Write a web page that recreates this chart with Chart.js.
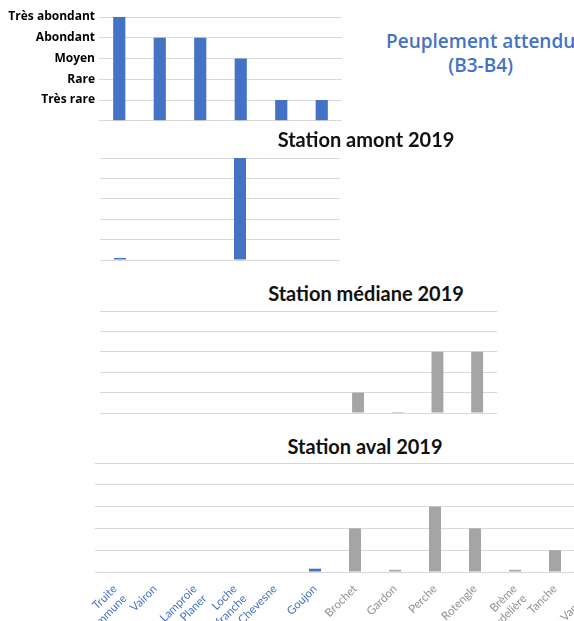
<!DOCTYPE html>
<html>
<head>
<meta charset="utf-8">
<script src="https://cdn.jsdelivr.net/npm/chart.js@4"></script>
<style>
  body { margin: 0; background: #fff; width: 574px; height: 621px; overflow: hidden; position: relative; }
  canvas { position: absolute; }
  .titre { position: absolute; font-family: Lato, sans-serif; font-weight: bold; font-size: 20px; color: #111; transform: translateX(-50%); white-space: nowrap; }
  .attendu { position: absolute; font-family: "Open Sans", sans-serif; font-weight: 600; font-size: 19px; color: #4472C4; text-align: center; white-space: nowrap; line-height: 24px; }
</style>
</head>
<body>
<canvas id="cAttendu" width="345" height="132" style="left:0;top:0"></canvas>
<div class="attendu" style="left:386px;top:29px">Peuplement attendu<br>(B3-B4)</div>

<div class="titre" style="left:366px;top:127px">Station amont 2019</div>
<canvas id="cAmont" width="242" height="114" style="left:100px;top:150px"></canvas>

<div class="titre" style="left:366px;top:281px">Station médiane 2019</div>
<canvas id="cMediane" width="399" height="114" style="left:100px;top:303px"></canvas>

<div class="titre" style="left:365px;top:434px">Station aval 2019</div>
<canvas id="cAval" width="585" height="166" style="left:40px;top:455px"></canvas>

<script>
// categories (especes)
var especesAttendu = ["Truite commune", "Vairon", "Lamproie de Planer", "Loche franche", "Chevesne", "Goujon"];
var especesMediane = ["Truite commune", "Vairon", "Lamproie de Planer", "Loche franche", "Chevesne", "Goujon",
                      "Brochet", "Gardon", "Perche", "Rotengle"];
var especesAval = [["Truite", "commune"], "Vairon", ["Lamproie", "de Planer"], ["Loche", "franche"], "Chevesne", "Goujon",
                   "Brochet", "Gardon", "Perche", "Rotengle", ["Brème", "bordelière"], "Tanche", "Vandoise"];

// classes d'abondance (axe y)
var niveaux = ["", "Très rare", "Rare", "Moyen", "Abondant", "Très abondant"];

// valeurs
var attendu = [5, 4, 4, 3, 1, 1];
var amont = [0.1, 0, 0, 5, 0, 0];
var mediane = [0, 0, 0, 0, 0, 0, 1, 0.05, 3, 3];
var aval = [0, 0, 0, 0, 0, 0.15, 2, 0.1, 3, 2, 0.1, 1, 0];

var nbNatives = 6;
var bleu = "#4472C4";
var gris = "#A5A5A5";
var grille = "#D9D9D9";

Chart.defaults.font.family = "Lato, sans-serif";
Chart.defaults.animation = false;

function couleurs(n) {
    var c = [];
    for (var i = 0; i < n; i++) c.push(i < nbNatives ? bleu : gris);
    return c;
}

function yScale(showLabels) {
    return {
        min: 0,
        max: 5,
        ticks: {
            stepSize: 1,
            display: showLabels,
            color: "#000",
            padding: 4,
            font: { family: "Open Sans, sans-serif", weight: "bold", size: 12 },
            callback: function(v) { return niveaux[v]; }
        },
        grid: { color: grille, drawTicks: false },
        border: { display: false },
        afterFit: function(s) { s.width = showLabels ? 99 : 0; }
    };
}

function makeChart(id, labels, values, padding, xScale, yLabels) {
    var ctx = document.getElementById(id).getContext("2d");
    return new Chart(ctx, {
        type: "bar",
        data: {
            labels: labels,
            datasets: [{
                data: values,
                backgroundColor: couleurs(values.length),
                barPercentage: 0.6,
                categoryPercentage: 0.5
            }]
        },
        options: {
            responsive: false,
            layout: { padding: padding },
            plugins: { legend: { display: false }, tooltip: { enabled: false } },
            scales: {
                x: xScale || { display: false },
                y: yScale(yLabels)
            }
        }
    });
}

makeChart("cAttendu", especesAttendu, attendu, { top: 17, right: 3, bottom: 0, left: 0 }, null, true);
makeChart("cAmont", especesAttendu, amont, { top: 8, right: 2, bottom: 4, left: 0 }, null, false);
makeChart("cMediane", especesMediane, mediane, { top: 8, right: 2, bottom: 4, left: 0 }, null, false);

makeChart("cAval", especesAval, aval, { top: 8, right: 10, bottom: 0, left: 55 }, {
    grid: { display: false },
    border: { display: false },
    ticks: {
        autoSkip: false,
        minRotation: 45,
        maxRotation: 45,
        padding: 2,
        font: { size: 11.5 },
        color: function(c) { return c.index < nbNatives ? bleu : "#909090"; }
    },
    afterFit: function(s) { s.height = 49; }
}, false);
</script>
</body>
</html>
